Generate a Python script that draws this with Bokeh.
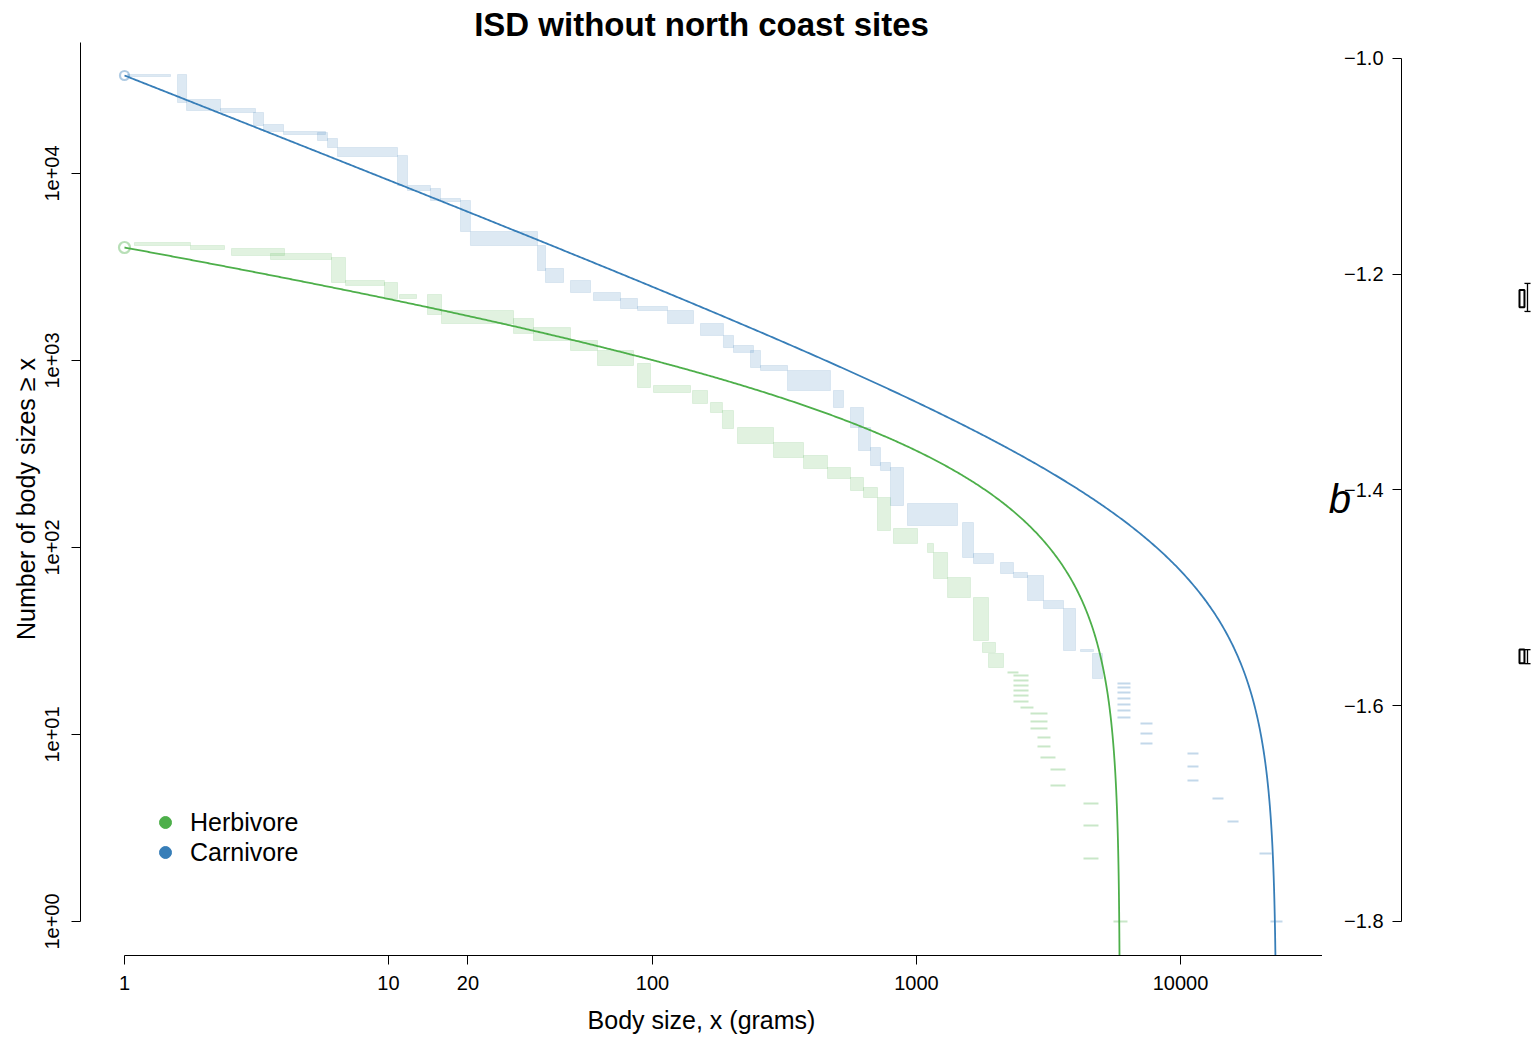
import numpy as np
from bokeh.plotting import figure
from bokeh.models import (Range1d, FixedTicker, CustomJSTickFormatter,
                          Legend, LegendItem)
from bokeh.layouts import row
from bokeh.embed import file_html
from bokeh.resources import INLINE

# ---------------- data ----------------
TITLE = "ISD without north coast sites"
X_TICKS = [1, 10, 20, 100, 1000, 10000]
Y_TICKS = [1, 10, 100, 1000, 10000]
B_TICKS = [-1.8, -1.6, -1.4, -1.2, -1.0]
groups = ["Herbivore", "Carnivore"]

# fitted bounded power-law parameters
herb_n, herb_b, herb_xmin, herb_xmax = 4020, -1.223, 1.0, 5900
carn_n, carn_b, carn_xmin, carn_xmax = 33430, -1.555, 1.0, 23100

# b estimates (box) and confidence intervals
b_box_lo = [-1.2305, -1.5607]
b_box_hi = [-1.2147, -1.5478]
b_ci_lo = [-1.2345, -1.5610]
b_ci_hi = [-1.2085, -1.5480]

# empirical ISD, carnivore: blocks (x range, count range)
carn_blk_xlo = [1.026, 1.588, 1.718, 2.310, 3.081, 3.362, 4.003, 5.384, 5.873, 6.410,
                10.82, 11.80, 14.42, 15.74, 18.74, 20.44, 36.68, 39.32, 48.91, 59.78,
                75.64, 87.74, 114.0, 152.0, 185.7, 202.7, 235.1, 256.5, 324.7, 484.8,
                562.3, 603.0, 669.6, 730.4, 797.0, 924.5, 1494, 1644, 2081, 2330,
                2634, 3028, 3605, 4181, 4642]
carn_blk_xhi = [1.494, 1.718, 2.310, 3.135, 3.362, 4.003, 5.772, 5.873, 6.410, 10.82,
                11.80, 14.42, 15.74, 18.74, 20.44, 36.68, 39.32, 46.02, 58.25, 75.64,
                87.74, 114.0, 143.0, 185.7, 202.7, 241.3, 256.5, 324.7, 472.2, 529.0,
                629.8, 669.6, 730.4, 797.0, 892.9, 1430, 1644, 1957, 2330, 2634,
                3028, 3605, 4003, 4683, 5064]
carn_blk_nhi = [33840, 33840, 24870, 22260, 21200, 18280, 16770, 16570, 15390, 13770,
                12490, 8628, 8313, 7349, 7171, 4895, 4121, 3105, 2678, 2310,
                2146, 1945, 1851, 1577, 1361, 1203, 1131, 940.4, 884.2, 691.2,
                560.6, 438.2, 342.5, 284.8, 267.8, 171.9, 136.0, 92.88, 83.14, 73.50,
                70.84, 52.06, 47.19, 28.48, 27.12]
carn_blk_nlo = [33010, 23970, 21720, 21200, 18060, 16770, 16160, 15010, 13770, 12330,
                8628, 8111, 7171, 7084, 4895, 4121, 3029, 2613, 2310, 2094,
                1897, 1851, 1577, 1361, 1173, 1104, 917.6, 884.2, 691.2, 560.6,
                438.2, 330.1, 274.4, 258.1, 167.7, 131.1, 88.42, 82.12, 72.61, 69.12,
                52.06, 47.19, 28.13, 27.79, 19.93]
# single dashes (x range, count)
carn_dash_xlo = [5772, 5772, 5772, 5772, 5772, 5772, 5772, 7055, 7055, 7055,
                 10630, 10630, 10630, 13220, 15070, 19920, 21920]
carn_dash_xhi = [6465, 6465, 6465, 6465, 6465, 6465, 6465, 7832, 7832, 7832,
                 11700, 11700, 11700, 14550, 16590, 22120, 24340]
carn_dash_n = [18.74, 17.84, 16.77, 15.58, 14.47, 13.44, 12.33, 11.45, 10.12, 8.950,
               7.914, 6.744, 5.675, 4.548, 3.425, 2.310, 1.0]

# empirical ISD, herbivore
herb_blk_xlo = [1.091, 1.778, 2.543, 3.573, 6.082, 6.873, 9.656, 11.01, 14.05, 15.88,
                29.75, 35.42, 48.91, 61.90, 87.74, 100.9, 141.8, 165.8, 184.1, 209.9,
                287.3, 373.3, 460.1, 562.3, 629.8, 711.6, 818.2, 1101, 1160, 1311,
                1644, 1778, 1874]
herb_blk_xhi = [1.778, 2.392, 4.037, 6.082, 6.873, 9.656, 10.82, 12.77, 15.88, 29.75,
                35.42, 48.91, 61.90, 84.73, 98.26, 139.3, 161.6, 184.1, 202.7, 287.3,
                373.3, 460.1, 562.3, 629.8, 711.6, 797.0, 1009, 1160, 1311, 1601,
                1874, 1992, 2136]
herb_blk_nhi = [4276, 4121, 3971, 3735, 3554, 2678, 2613, 2254, 2254, 1851,
                1677, 1500, 1279, 1131, 963.9, 735.0, 691.2, 596.3, 540.3, 438.2,
                364.3, 310.5, 267.8, 236.8, 209.4, 185.1, 126.4, 105.1, 94.04, 69.12,
                54.03, 31.05, 27.12]
herb_blk_nlo = [4121, 3923, 3644, 3468, 2613, 2519, 2146, 2146, 1762, 1577,
                1395, 1279, 1131, 940.4, 717.1, 674.4, 589.0, 527.2, 432.8, 359.8,
                302.9, 264.6, 233.9, 201.7, 185.1, 123.3, 105.1, 94.04, 68.29, 54.03,
                31.82, 27.45, 22.82]
herb_dash_xlo = [2212, 2330, 2330, 2330, 2330, 2330, 2330, 2477, 2703, 2703, 2703,
                 2873, 2873, 2949, 3218, 3218, 4292, 4292, 4292, 5574]
herb_dash_xhi = [2434, 2657, 2657, 2657, 2657, 2657, 2657, 2774, 3135, 3135, 3135,
                 3218, 3218, 3361, 3668, 3668, 4891, 4891, 4891, 6298]
herb_dash_n = [21.46, 20.68, 19.45, 18.28, 17.19, 16.16, 15.01, 13.94, 12.95, 11.74, 10.77,
               9.638, 8.628, 7.534, 6.499, 5.337, 4.276, 3.262, 2.172, 1.0]

# ---------------- style ----------------
FONT = "Liberation Sans"
BLUE = "#377EB8"
GREEN = "#4DAF4A"
X_START, X_END = 0.6813, 34510
Y_START, Y_END = 0.6579, 50180
B_START, B_END = -1.83152, -0.98517
H = 1041
TOP, BOTTOM = 42, 86


def bpl_counts(x, n, b, xmin, xmax):
    return n * (x ** (b + 1) - xmax ** (b + 1)) / (xmin ** (b + 1) - xmax ** (b + 1))


def curve_x(xmin, xmax):
    a = np.logspace(np.log10(xmin), np.log10(xmax), 700)
    c = xmax - (xmax - xmin) * np.logspace(-0.3, -8, 400)
    xs = np.unique(np.concatenate([a, c]))
    return xs[xs < xmax]


p = figure(width=1322, height=H, x_axis_type="log", y_axis_type="log",
           x_range=Range1d(X_START, X_END), y_range=Range1d(Y_START, Y_END),
           output_backend="svg", toolbar_location=None,
           min_border_left=80, min_border_right=0, min_border_top=TOP, min_border_bottom=BOTTOM)
p.grid.visible = False
p.outline_line_color = None

p.title.text = TITLE
p.title.align = "center"
p.title.standoff = 0
p.title.offset = 0
p.title.text_font = FONT
p.title.text_font_size = "33px"
p.title.text_font_style = "bold"
p.title.text_color = "black"

for col, xlo, xhi, nhi, nlo, dxlo, dxhi, dn in [
        (GREEN, herb_blk_xlo, herb_blk_xhi, herb_blk_nhi, herb_blk_nlo, herb_dash_xlo, herb_dash_xhi, herb_dash_n),
        (BLUE, carn_blk_xlo, carn_blk_xhi, carn_blk_nhi, carn_blk_nlo, carn_dash_xlo, carn_dash_xhi, carn_dash_n)]:
    p.quad(left=xlo, right=xhi, top=nhi, bottom=nlo, fill_color=col, fill_alpha=0.17,
           line_color=col, line_alpha=0.12, line_width=1)
    p.segment(x0=dxlo, x1=dxhi, y0=dn, y1=dn, line_color=col, line_alpha=0.3, line_width=2)

# starting points
p.scatter(x=[herb_xmin], y=[herb_n], marker="circle", size=11, fill_color=None,
          line_color=GREEN, line_alpha=0.4, line_width=2.2)
p.scatter(x=[carn_xmin], y=[carn_n], marker="circle", size=9, fill_color=None,
          line_color=BLUE, line_alpha=0.4, line_width=2.2)

# fitted curves
xh = curve_x(herb_xmin, herb_xmax)
p.line(xh, bpl_counts(xh, herb_n, herb_b, herb_xmin, herb_xmax), line_color=GREEN, line_width=1.8)
xc = curve_x(carn_xmin, carn_xmax)
p.line(xc, bpl_counts(xc, carn_n, carn_b, carn_xmin, carn_xmax), line_color=BLUE, line_width=1.8)

# axes
xa = p.xaxis[0]
xa.ticker = FixedTicker(ticks=X_TICKS)
xa.formatter = CustomJSTickFormatter(code="return tick.toFixed(0);")
xa.bounds = (1, X_END)
xa.axis_label = "Body size, x (grams)"

ya = p.yaxis[0]
ya.ticker = FixedTicker(ticks=Y_TICKS)
ya.formatter = CustomJSTickFormatter(
    code="return '1e+' + String(Math.round(Math.log10(tick))).padStart(2, '0');")
ya.bounds = (1, Y_END)
ya.major_label_orientation = "vertical"
ya.axis_label = "Number of body sizes \u2265 x"

for ax in (xa, ya):
    ax.minor_tick_line_color = None
    ax.major_tick_in = 0
    ax.major_tick_out = 9
    ax.axis_line_color = "black"
    ax.major_tick_line_color = "black"
    ax.major_label_text_font = FONT
    ax.major_label_text_font_size = "20px"
    ax.major_label_text_color = "black"
    ax.axis_label_text_font = FONT
    ax.axis_label_text_font_size = "25px"
    ax.axis_label_text_font_style = "normal"
    ax.axis_label_text_color = "black"
xa.major_label_standoff = 11
xa.axis_label_standoff = 13
ya.major_label_standoff = 12
ya.axis_label_standoff = 3

# legend (proxy renderers placed outside the visible range)
r_h = p.scatter(x=[0.01], y=[1e7], marker="circle", size=6, color=GREEN)
r_c = p.scatter(x=[0.01], y=[1e7], marker="circle", size=6, color=BLUE)
legend = Legend(items=[LegendItem(label=groups[0], renderers=[r_h]),
                       LegendItem(label=groups[1], renderers=[r_c])],
                location=(65, 88), glyph_width=40, glyph_height=30, label_height=30,
                label_standoff=5, padding=0, margin=0, spacing=0,
                border_line_color=None, background_fill_alpha=0,
                label_text_font=FONT, label_text_font_size="25px", label_text_color="black")
p.add_layout(legend)

# ---------------- b panel ----------------
p2 = figure(width=217, height=H, x_range=Range1d(0, 1), y_range=Range1d(B_START, B_END),
            output_backend="svg", toolbar_location=None,
            min_border_left=79, min_border_right=0, min_border_top=TOP, min_border_bottom=BOTTOM)
p2.grid.visible = False
p2.outline_line_color = None
p2.xaxis.visible = False
ba = p2.yaxis[0]
ba.ticker = FixedTicker(ticks=B_TICKS)
ba.formatter = CustomJSTickFormatter(code="return '\\u2212' + Math.abs(tick).toFixed(1);")
ba.bounds = (-1.8, -1.0)
ba.minor_tick_line_color = None
ba.major_tick_in = 0
ba.major_tick_out = 9
ba.major_label_standoff = 9
ba.major_label_text_font = FONT
ba.major_label_text_font_size = "20px"
ba.major_label_text_color = "black"
ba.axis_line_color = "black"
ba.major_tick_line_color = "black"
ba.axis_label = "b"
ba.axis_label_orientation = "horizontal"
ba.axis_label_standoff = -10
ba.axis_label_text_font = FONT
ba.axis_label_text_font_size = "40px"
ba.axis_label_text_font_style = "italic"
ba.axis_label_text_color = "black"

B_X = 0.873
BOX_HALF = 0.018
WHISK_DX = 0.04
CAP_HALF = 0.022
nb = len(b_box_lo)
p2.quad(left=[B_X - BOX_HALF] * nb, right=[B_X + BOX_HALF] * nb, bottom=b_box_lo, top=b_box_hi,
        fill_color=None, line_color="black", line_width=2)
wx = [B_X + WHISK_DX] * nb
p2.segment(x0=wx, x1=wx, y0=b_ci_lo, y1=b_ci_hi, line_color="black", line_width=1.3)
p2.segment(x0=[B_X + WHISK_DX - CAP_HALF] * nb, x1=[B_X + WHISK_DX + CAP_HALF] * nb,
           y0=b_ci_lo, y1=b_ci_lo, line_color="black", line_width=1.3)
p2.segment(x0=[B_X + WHISK_DX - CAP_HALF] * nb, x1=[B_X + WHISK_DX + CAP_HALF] * nb,
           y0=b_ci_hi, y1=b_ci_hi, line_color="black", line_width=1.3)

layout = row(p, p2)
open("out.html", "w", encoding="utf-8").write(file_html(layout, INLINE))
